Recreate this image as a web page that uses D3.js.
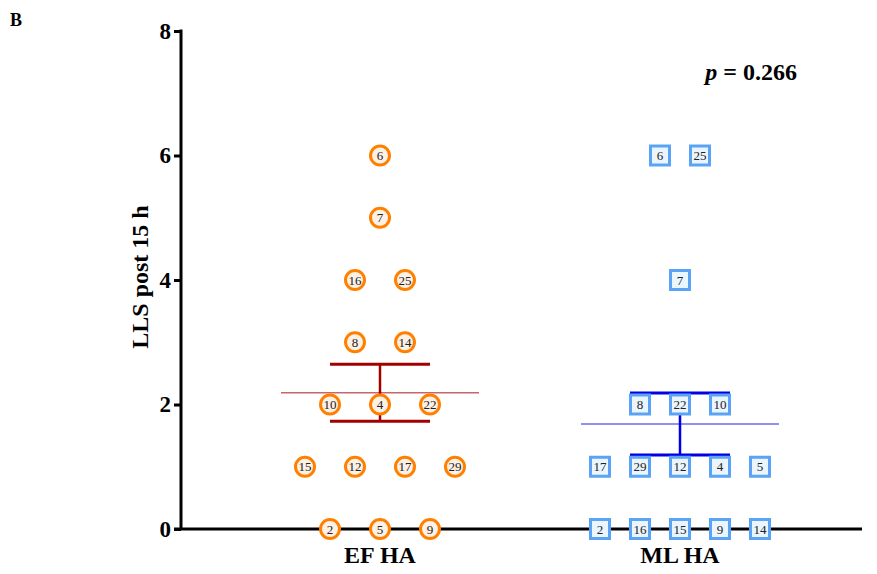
<!DOCTYPE html>
<html lang="en">
<head>
	<meta charset="utf-8">
	<title>LLS post 15 h</title>
	<script src="https://d3js.org/d3.v7.min.js"></script>
	<style type="text/css">
		body { margin: 0; background: #fff; }
		text { font-family: "Liberation Serif", "Times New Roman", serif; }
		.axis path, .axis line { stroke: black; stroke-width: 3; }
		.axis text { font-size: 23px; font-weight: bold; fill: black; font-family: "Liberation Serif", serif; }
	</style>
</head>
<body>
<script type="text/javascript">

	// Data: patient id, LLS score, column slot within the group
	var groups = ["EF HA", "ML HA"];
	var efIds    = [6, 7, 16, 25, 8, 14, 10, 4, 22, 15, 12, 17, 29, 2, 5, 9];
	var efValues = [6, 5, 4, 4, 3, 3, 2, 2, 2, 1, 1, 1, 1, 0, 0, 0];
	var efSlots  = [0, 0, -1, 1, -1, 1, -2, 0, 2, -3, -1, 1, 3, -2, 0, 2];
	var mlIds    = [6, 25, 7, 8, 22, 10, 17, 29, 12, 4, 5, 2, 16, 15, 9, 14];
	var mlValues = [6, 6, 4, 2, 2, 2, 1, 1, 1, 1, 1, 0, 0, 0, 0, 0];
	var mlSlots  = [-1, 1, 0, -2, 0, 2, -4, -2, 0, 2, 4, -4, -2, 0, 2, 4];
	var yTicks = [0, 2, 4, 6, 8];
	var pText = "0.266";

	var width = 877, height = 574;
	var margin = {top: 31, left: 181, bottom: 45, right: 15};

	var svg = d3.select("body").append("svg")
		.attr("width", width)
		.attr("height", height);

	var yScale = d3.scaleLinear().domain([0, 8]).range([height - margin.bottom, margin.top]);
	var xScale = d3.scalePoint().domain(groups).range([380, 680]);

	// mean and SEM
	function stats(vals) {
		var m = d3.mean(vals);
		var sem = d3.deviation(vals) / Math.sqrt(vals.length);
		return {mean: m, lo: m - sem, hi: m + sem};
	}

	// y axis
	svg.append("g")
		.attr("class", "axis")
		.attr("transform", "translate(" + margin.left + ",0)")
		.call(d3.axisLeft(yScale).tickValues(yTicks).tickSize(7).tickSizeOuter(0).tickPadding(3))
		.select(".domain").attr("d", "M0," + yScale(0) + "V" + (yScale(8) - 1.5));

	// x axis (baseline)
	svg.append("line")
		.attr("x1", margin.left - 7).attr("x2", 862)
		.attr("y1", yScale(0)).attr("y2", yScale(0))
		.attr("stroke", "black").attr("stroke-width", 3);

	// category labels
	svg.selectAll(".cat").data(groups).enter().append("text")
		.attr("x", function(d) { return xScale(d); })
		.attr("y", 563)
		.attr("text-anchor", "middle")
		.style("font-size", "24px").style("font-weight", "bold")
		.text(function(d) { return d; });

	// y label
	svg.append("text")
		.attr("transform", "translate(148," + 277 + ") rotate(-90)")
		.attr("text-anchor", "middle")
		.style("font-size", "24px").style("font-weight", "bold")
		.text("LLS post 15 h");

	svg.append("text").attr("x", 10).attr("y", 26)
		.style("font-size", "18px").style("font-weight", "bold").text("B");

	var pt = svg.append("text").attr("x", 797).attr("y", 80).attr("text-anchor", "end")
		.style("font-size", "24px").style("font-weight", "bold");
	pt.append("tspan").style("font-style", "italic").text("p");
	pt.append("tspan").text(" = " + pText);

	// mean / sem drawing
	function drawStats(vals, cx, meanColor, barColor) {
		var s = stats(vals);
		svg.append("line")
			.attr("x1", cx - 99).attr("x2", cx + 99)
			.attr("y1", yScale(s.mean)).attr("y2", yScale(s.mean))
			.attr("stroke", meanColor).attr("stroke-width", 1.5);
		svg.append("line")
			.attr("x1", cx).attr("x2", cx)
			.attr("y1", yScale(s.lo)).attr("y2", yScale(s.hi))
			.attr("stroke", barColor).attr("stroke-width", 2.5);
		[s.lo, s.hi].forEach(function(v) {
			svg.append("line")
				.attr("x1", cx - 50).attr("x2", cx + 50)
				.attr("y1", yScale(v)).attr("y2", yScale(v))
				.attr("stroke", barColor).attr("stroke-width", 3);
		});
	}

	drawStats(efValues, xScale("EF HA"), "#c9666a", "#a00000");
	drawStats(mlValues, xScale("ML HA"), "#6b6bf0", "#0000e6");

	// EF points (circles)
	var efData = efIds.map(function(id, i) { return {id: id, v: efValues[i], s: efSlots[i]}; });
	var ef = svg.selectAll(".ef").data(efData).enter().append("g")
		.attr("transform", function(d) {
			return "translate(" + (xScale("EF HA") + d.s * 25) + "," + yScale(d.v) + ")";
		});
	ef.append("circle").attr("r", 9.5)
		.attr("fill", "#fdf0e4").attr("stroke", "#ff8000").attr("stroke-width", 3);
	ef.append("text").attr("text-anchor", "middle").attr("dy", 4.5)
		.style("font-size", "13px").attr("fill", "#222")
		.text(function(d) { return d.id; });

	// ML points (squares)
	var mlData = mlIds.map(function(id, i) { return {id: id, v: mlValues[i], s: mlSlots[i]}; });
	var ml = svg.selectAll(".ml").data(mlData).enter().append("g")
		.attr("transform", function(d) {
			return "translate(" + (xScale("ML HA") + d.s * 20) + "," + yScale(d.v) + ")";
		});
	ml.append("rect").attr("x", -9.5).attr("y", -9.5).attr("width", 19).attr("height", 19)
		.attr("fill", "#eaf5fd").attr("stroke", "#5ba3f5").attr("stroke-width", 3);
	ml.append("text").attr("text-anchor", "middle").attr("dy", 4.5)
		.style("font-size", "13px").attr("fill", "#222")
		.text(function(d) { return d.id; });

</script>
</body>
</html>
